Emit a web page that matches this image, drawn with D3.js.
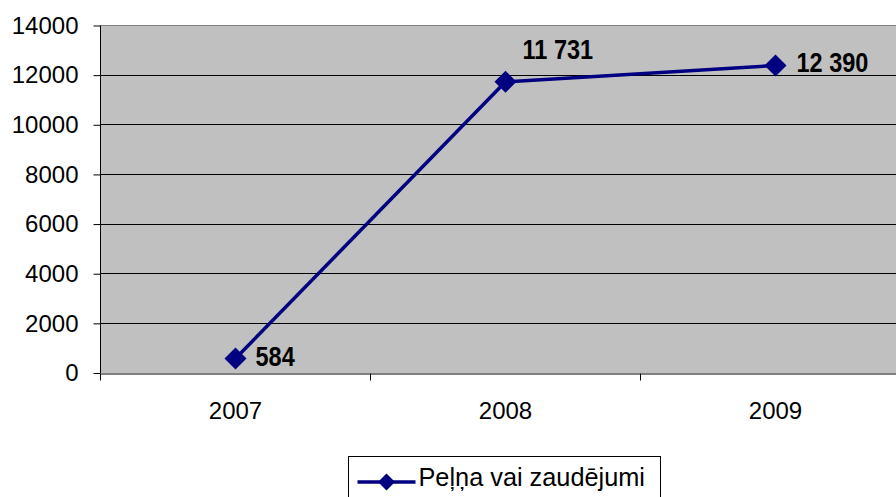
<!DOCTYPE html>
<html>
<head>
<meta charset="utf-8">
<script src="https://cdn.jsdelivr.net/npm/d3@7"></script>
<style>
  body { margin: 0; background: #fff; }
  text { font-family: "Liberation Sans", Arial, sans-serif; }
  .lbl { font-family: "Liberation Sans", Arial, sans-serif; font-weight: bold; }
</style>
</head>
<body>
<svg id="graph"></svg>
<script>
var years = ["2007", "2008", "2009"];
var values = [584, 11731, 12390];
var valueLabels = ["584", "11 731", "12 390"];
var yTicks = [0, 2000, 4000, 6000, 8000, 10000, 12000, 14000];
var seriesName = "Peļņa vai zaudējumi";

var svg = d3.select("#graph")
    .attr("width", 896)
    .attr("height", 497);

var margin = {top: 25.5, left: 100.5},
    width = 810,
    height = 347.5;

var x = d3.scaleBand().domain(years).range([0, width]),
    y = d3.scaleLinear().domain([0, 14000]).range([height, 0]);

var g = svg.append("g")
    .attr("transform", "translate(" + margin.left + "," + margin.top + ")");

g.append("rect")
    .attr("width", width)
    .attr("height", height)
    .attr("fill", "#c0c0c0");

// gridlines
g.selectAll(".grid")
  .data(yTicks.filter(function(d) { return d > 0; }))
  .enter().append("line")
    .attr("x1", 0)
    .attr("x2", width)
    .attr("y1", function(d) { return Math.round(y(d)); })
    .attr("y2", function(d) { return Math.round(y(d)); })
    .attr("stroke", function(d) { return d == 14000 ? "#808080" : "#000"; })
    .attr("stroke-width", 1);

var yaxis = g.append("g")
    .call(d3.axisLeft(y).tickValues(yTicks).tickSize(7).tickPadding(15).tickFormat(d3.format("d")));
yaxis.select(".domain").attr("d", "M0," + height + "V0").attr("stroke", "#000");
yaxis.selectAll("text").style("font-size", "24px").attr("fill", "#000");

var xaxis = g.append("g")
    .attr("transform", "translate(0," + Math.round(height) + ")")
    .call(d3.axisBottom(x).tickSize(0).tickPadding(28));
xaxis.select(".domain").attr("stroke", "#000");
xaxis.selectAll("text").style("font-size", "24px").attr("fill", "#000");
xaxis.selectAll(".sep")
  .data(years.concat([""]))
  .enter().append("line")
    .attr("x1", function(d, i) { return i * x.bandwidth(); })
    .attr("x2", function(d, i) { return i * x.bandwidth(); })
    .attr("y1", 0)
    .attr("y2", 7)
    .attr("stroke", "#000");

var cx = function(d, i) { return x(years[i]) + x.bandwidth() / 2; };

var line = d3.line()
    .x(function(d, i) { return cx(d, i); })
    .y(function(d) { return y(d); });

g.append("path")
    .datum(values)
    .attr("d", line)
    .attr("fill", "none")
    .attr("stroke", "#000080")
    .attr("stroke-width", 3.5);

var diamond = d3.symbol().type(d3.symbolSquare).size(242);

g.selectAll(".pt")
  .data(values)
  .enter().append("path")
    .attr("d", diamond)
    .attr("transform", function(d, i) { return "translate(" + cx(d, i) + "," + y(d) + ") rotate(45)"; })
    .attr("fill", "#000080");

var labelDx = [20, 17, 21],
    labelDy = [7, -23, 7];

g.selectAll(".lbl")
  .data(values)
  .enter().append("text")
    .attr("class", "lbl")
    .attr("transform", function(d, i) {
        return "translate(" + (cx(d, i) + labelDx[i]) + "," + (y(d) + labelDy[i]) + ") scale(0.84,1)";
    })
    .style("font-size", "28px")
    .attr("fill", "#000")
    .text(function(d, i) { return valueLabels[i]; });

// legend
var legend = svg.append("g").attr("transform", "translate(348.5,456.5)");
legend.append("rect")
    .attr("width", 312)
    .attr("height", 50)
    .attr("fill", "#fff")
    .attr("stroke", "#000");
legend.append("line")
    .attr("x1", 9).attr("x2", 67)
    .attr("y1", 25.5).attr("y2", 25.5)
    .attr("stroke", "#000080").attr("stroke-width", 3.5);
legend.append("path")
    .attr("d", d3.symbol().type(d3.symbolSquare).size(144))
    .attr("transform", "translate(38,25.5) rotate(45)")
    .attr("fill", "#000080");
legend.append("text")
    .attr("x", 70)
    .attr("y", 29)
    .style("font-size", "25.3px")
    .attr("fill", "#000")
    .text(seriesName);
</script>
</body>
</html>
